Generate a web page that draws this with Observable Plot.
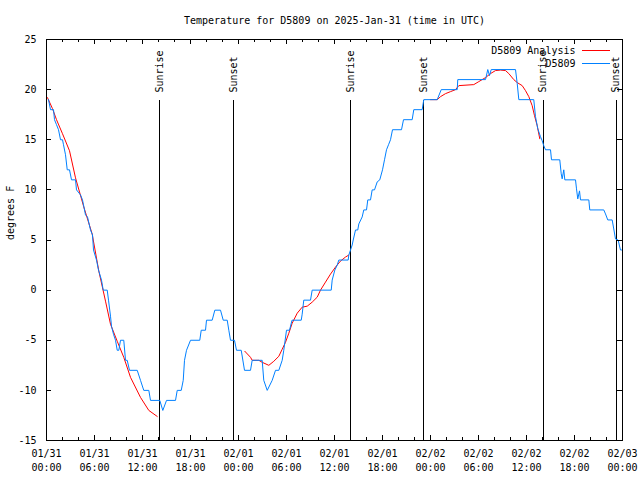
<!DOCTYPE html>
<html><head><meta charset="utf-8">
<script src="https://cdn.jsdelivr.net/npm/d3@7"></script>
<script src="https://cdn.jsdelivr.net/npm/@observablehq/plot@0.6"></script>
<style>body{margin:0;background:#fff} svg{display:block}</style>
</head><body><div id="chart"></div>
<script>
const title = "Temperature for D5809 on 2025-Jan-31 (time in UTC)";
const yLabel = "degrees F";
const seriesNames = ["D5809 Analysis", "D5809"];
const seriesColors = ["#ff0000", "#0080ff"];
const startTime = "2025-01-31T00:00Z";
const endTime = "2025-02-03T00:00Z";
const yTicks = [-15, -10, -5, 0, 5, 10, 15, 20, 25];

// observed D5809 (hours since 01/31 00:00 UTC, deg F)
const obsHours = [0.25,0.5,0.875,1.0,1.25,1.5,1.75,2.0,2.125,2.375,2.59,2.875,3.125,3.625,3.75,4.25,4.5,4.625,4.875,5.125,5.5,5.75,5.875,6.25,6.5,6.875,7.09,7.59,7.75,8.0,8.125,8.375,8.625,8.84,9.04,9.25,9.66,9.875,10.09,10.375,11.34,11.75,12.16,12.79,13.0,14.16,14.54,15.0,16.125,16.34,16.84,17.09,17.25,17.5,18.0,19.16,19.34,19.875,20.0,20.71,21.04,21.75,22.09,22.59,22.79,23.0,23.5,23.75,24.34,24.75,25.5,25.71,26.96,27.16,27.59,28.21,28.625,29.04,29.46,29.66,30.0,30.375,30.69,31.84,31.96,32.16,33.0,33.21,35.59,35.71,36.04,36.34,36.54,37.71,37.79,38.0,38.21,38.34,38.625,38.91,39.04,39.46,39.66,40.0,40.16,40.5,40.71,41.0,41.34,41.66,42.0,42.25,42.5,42.75,43.0,43.25,44.375,44.625,45.71,45.91,46.96,47.16,48.84,49.34,51.34,51.41,54.875,55.16,55.375,55.59,58.625,58.84,59.04,60.91,61.125,61.41,61.75,61.96,62.16,62.375,63.0,63.125,64.16,64.34,64.46,64.66,64.79,66.125,66.25,66.41,66.625,66.75,67.79,67.91,69.66,69.875,70.16,70.71,70.91,71.125,71.46,71.625,71.75,71.875];
const obsTemps = [19,18,18,17,16.5,16,15,15,14.5,13.5,12,12,11,11,10,9.5,9,8.5,7.5,7.3,6,5.5,4,3,2,1,0,0,-1,-2.6,-3.6,-4.4,-5,-6,-6,-5,-5,-7,-7,-8,-8,-9,-10,-10,-11,-11,-12,-11,-11,-10,-10,-9,-7,-6,-5,-5,-4,-4,-3,-3,-2,-2,-3,-3,-4,-5,-5,-6,-6,-8,-8,-7,-7,-9,-10,-9,-8,-8,-7,-6,-4,-4,-3,-3,-2.4,-1,-1,0,0,1,2,2.5,3,3,3.5,4,4.5,5,6,6,6.6,7.3,8,8,9,9,10,10,10.8,11,12,13,14,14.5,15,16,16,17,17,18,18,19,19,20,20,21,21,22,21.4,22,22,20.6,19,19,17.3,16.1,15.3,14.9,14.4,14,14,13,13,11.6,11.1,12,11,11,10.1,9.1,9.9,9,9,8,8,7.6,7,7,6.1,5.1,5,4.4,4,4];

// analysis (three separate segments)
const anaHours = [0.125,0.75,1.25,2.0,2.875,3.625,4.66,5.71,6.54,7.375,8.0,8.84,9.66,10.5,11.75,12.79,13.84,
  24.79,25.5,25.71,26.54,26.96,27.79,28.41,29.04,29.46,29.875,30.29,30.71,31.34,31.96,32.59,33.21,33.84,34.25,34.875,35.5,36.125,36.75,37.375,37.79,
  48.0,48.84,49.25,49.875,50.5,51.125,51.54,53.41,54.04,54.875,55.5,56.125,56.75,57.375,57.79,58.41,58.84,59.46,59.875,60.29,60.71,61.0,61.34,61.66];
const anaTemps = [19.2,18.1,17,15.6,13.9,11.2,8.3,5.6,1.9,-1.1,-3.4,-5.1,-6.7,-8.7,-10.7,-12,-12.6,
  -6.1,-6.7,-7.0,-7.0,-7.2,-7.5,-7.1,-6.6,-5.9,-5.2,-4.3,-3.3,-2.3,-1.7,-1.6,-1.2,-0.7,0,0.8,1.6,2.3,2.9,3.3,3.5,
  19.0,19.0,19.3,19.6,19.8,20.0,20.4,20.5,20.8,21.2,21.6,21.9,21.95,21.9,21.6,21.0,20.7,20.4,19.9,19.3,18.4,17.4,16.4,15.1];
const anaSegment = [1,1,1,1,1,1,1,1,1,1,1,1,1,1,1,1,1,
  2,2,2,2,2,2,2,2,2,2,2,2,2,2,2,2,2,2,2,2,2,2,2,2,
  3,3,3,3,3,3,3,3,3,3,3,3,3,3,3,3,3,3,3,3,3,3,3,3];

const sunTimes = ["2025-01-31T14:10Z","2025-01-31T23:25Z","2025-02-01T14:02Z","2025-02-01T23:10Z","2025-02-02T14:05Z","2025-02-02T23:13Z"];
const sunLabels = ["Sunrise","Sunset","Sunrise","Sunset","Sunrise","Sunset"];

const t0 = new Date(startTime), t1 = new Date(endTime);
const hr = h => new Date(+t0 + h * 3600e3);
const obs = obsHours.map((h, i) => ({t: hr(h), v: obsTemps[i]}));
const ana = anaHours.map((h, i) => ({t: hr(h), v: anaTemps[i], seg: anaSegment[i]}));
const sun = sunTimes.map((s, i) => ({t: new Date(s), label: sunLabels[i]}));
const xMajor = d3.utcHour.every(6).range(t0, new Date(+t1 + 1));
const xMinor = d3.utcHour.every(2).range(t0, new Date(+t1 + 1)).filter(d => d.getUTCHours() % 6 !== 0);

const W = 640, H = 480, mL = 46, mR = 18, mT = 39, mB = 40;
const pw = W - mL - mR, ph = H - mT - mB;
const fmt = d3.utcFormat("%m/%d\n%H:%M");
const crisp = {stroke: "black", shapeRendering: "crispEdges"};

const plot = Plot.plot({
  width: W, height: H,
  marginLeft: mL, marginRight: mR, marginTop: mT, marginBottom: mB,
  style: {fontFamily: "'DejaVu Sans Mono', monospace", fontSize: "10px", background: "white", color: "black"},
  x: {type: "utc", domain: [t0, t1], label: null},
  y: {domain: [-15, 25], label: null},
  marks: [
    Plot.ruleX(sun, {x: "t", insetTop: 61, ...crisp}),
    Plot.text(sun, {x: "t", text: "label", frameAnchor: "top", dy: 53, rotate: -90, textAnchor: "start", lineAnchor: "middle", fill: "black"}),
    Plot.line(ana, {x: "t", y: "v", z: "seg", stroke: seriesColors[0], strokeWidth: 1}),
    Plot.line(obs, {x: "t", y: "v", stroke: seriesColors[1], strokeWidth: 1}),
    Plot.frame({...crisp}),
    Plot.ruleX(xMinor, {x: d => d, insetTop: ph - 3, ...crisp}),
    Plot.ruleX(xMinor, {x: d => d, insetBottom: ph - 3, ...crisp}),
    Plot.ruleX(xMajor, {x: d => d, insetTop: ph - 5, ...crisp}),
    Plot.ruleX(xMajor, {x: d => d, insetBottom: ph - 5, ...crisp}),
    Plot.ruleY(yTicks, {y: d => d, insetRight: pw - 5, ...crisp}),
    Plot.ruleY(yTicks, {y: d => d, insetLeft: pw - 5, ...crisp}),
    Plot.axisX(xMajor, {tickSize: 0, tickPadding: 7, tickFormat: fmt, lineHeight: 1.4, label: null}),
    Plot.axisY(yTicks, {tickSize: 0, tickPadding: 10, tickFormat: d => String(d), label: null}),
    Plot.text([title], {frameAnchor: "top", dy: -19, lineAnchor: "middle", fill: "black"}),
    Plot.text([yLabel], {frameAnchor: "left", dx: -36, rotate: -90, lineAnchor: "middle", fill: "black"}),
    Plot.text([seriesNames[0]], {frameAnchor: "top-right", dx: -47, dy: 11, textAnchor: "end", lineAnchor: "middle", fill: "black"}),
    Plot.text([seriesNames[1]], {frameAnchor: "top-right", dx: -47, dy: 24, textAnchor: "end", lineAnchor: "middle", fill: "black"})
  ]
});

// legend sample lines
const svg = d3.select(plot);
[0, 1].forEach(i => {
  svg.append("line")
    .attr("x1", W - mR - 40).attr("x2", W - mR - 12)
    .attr("y1", mT + 11 + i * 13).attr("y2", mT + 11 + i * 13)
    .attr("stroke", seriesColors[i]).attr("stroke-width", 1)
    .attr("shape-rendering", "crispEdges");
});
document.getElementById("chart").appendChild(plot);
</script>
</body></html>
